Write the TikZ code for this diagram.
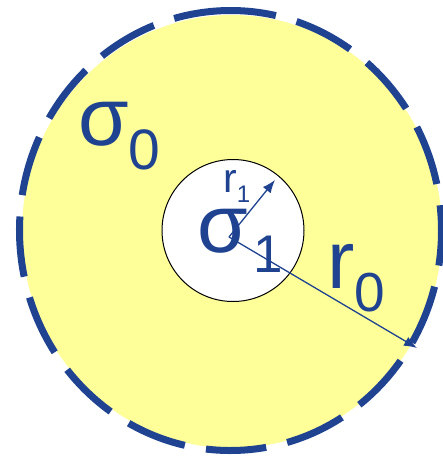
\documentclass[tikz,border=0pt]{standalone}
\usepackage{fontspec}
\setmainfont{Liberation Sans}
\usetikzlibrary{arrows.meta}
\definecolor{dblue}{RGB}{31,67,145}
\definecolor{lyellow}{RGB}{255,255,153}
\tikzset{
  lbl/.style={inner sep=0pt, anchor=base west, text=dblue},
  radarrow/.style={draw=dblue, line width=1.3pt, -{Latex[length=13pt,width=10pt]}},
}
\newcommand{\bigfs}{\fontsize{82}{82}\selectfont}
\newcommand{\subfs}[1]{\fontsize{#1}{#1}\selectfont}
\begin{document}
\begin{tikzpicture}[x=1pt,y=-1pt]
\useasboundingbox (0,0) rectangle (443,459);
\fill[lyellow] (232,231.5) ellipse [x radius=210, y radius=216.5];
\draw[dblue, line width=7pt, dash pattern=on 60.5pt off 21.5pt]
  (230.5,230.5) ++(-94:211 and 220) arc [start angle=-94, end angle=266, x radius=211, y radius=220];
\node[circle, draw=black, fill=white, line width=1pt, minimum size=142pt, inner sep=0pt] (inner) at (233,230.5) {};
\coordinate (o) at (229,237);
\coordinate (p1) at (275,180);
\coordinate (p0) at (417,348);
\node[lbl] (s0) at (78,145) {\bigfs σ\raisebox{-24pt}{\subfs{57}0}};
\node[lbl] (s1) at (197,252) {\bigfs σ\hspace{6pt}\raisebox{-20pt}{\subfs{53}1}};
\node[lbl] (rr0) at (327,288) {\bigfs r\raisebox{-23pt}{\subfs{55}0}};
\node[lbl] (rr1) at (223,192) {\fontsize{41}{41}\selectfont r\raisebox{-10pt}{\subfs{24}1}};
\draw[radarrow] (o) -- (p1);
\draw[radarrow] (o) -- (p0);
\end{tikzpicture}
\end{document}
